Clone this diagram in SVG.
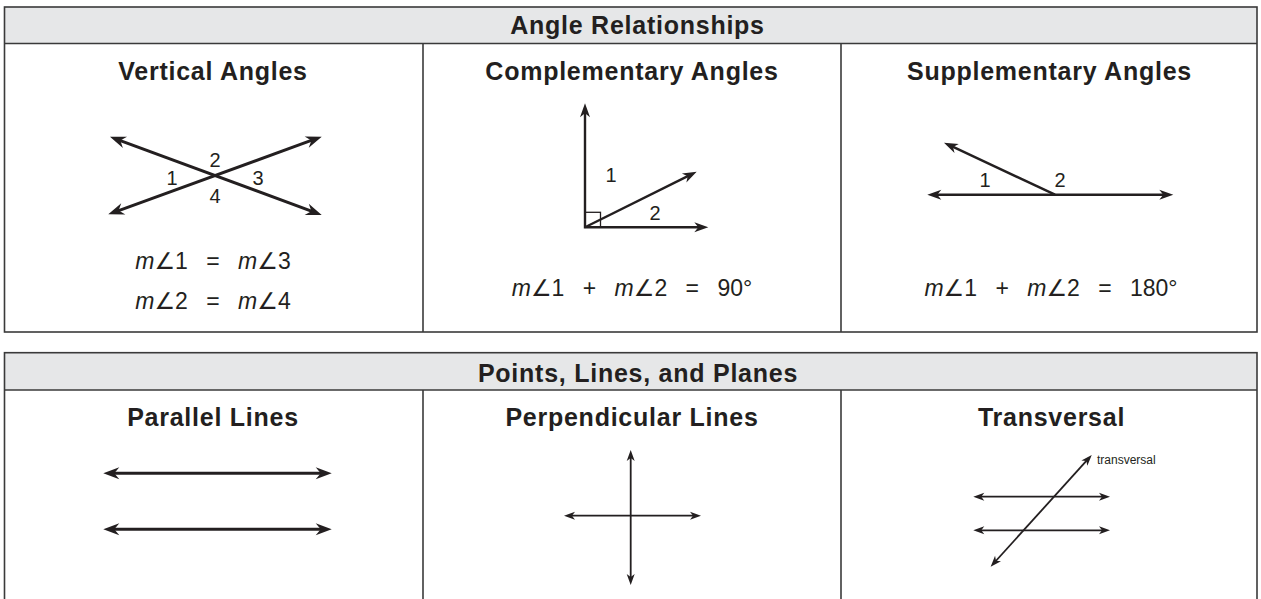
<svg xmlns="http://www.w3.org/2000/svg" width="1261" height="599" viewBox="0 0 1261 599">
<style>
.bg{fill:#ffffff}
.hdr{fill:#e6e7e8}
.frame{fill:none;stroke:#3a3a3a;stroke-width:1.6}
.div{stroke:#3a3a3a;stroke-width:1.6}
.title{font-family:"Liberation Sans",Arial,sans-serif;font-weight:bold;font-size:25px;letter-spacing:0.75px;fill:#231f20;text-anchor:middle}
.num{font-family:"Liberation Sans",Arial,sans-serif;font-size:20px;fill:#231f20;text-anchor:middle}
.eq{font-family:"Liberation Sans","DejaVu Sans",sans-serif;font-size:23px;word-spacing:12px;fill:#231f20;text-anchor:middle}
.eq .i{font-style:italic}
.small{font-family:"Liberation Sans",Arial,sans-serif;font-size:12px;fill:#231f20}
.l3{fill:none;stroke:#231f20;stroke-width:3}
.l25{fill:none;stroke:#231f20;stroke-width:2.4}
.l2{fill:none;stroke:#231f20;stroke-width:1.8}
.box{fill:none;stroke:#231f20;stroke-width:1.3}
.big{marker-start:url(#ahBig);marker-end:url(#ahBig)}
.med{marker-end:url(#ahMed)}
.med2{marker-start:url(#ahMed);marker-end:url(#ahMed)}
.sm{marker-start:url(#ahSm);marker-end:url(#ahSm)}
</style>
<defs>
<marker id="ahBig" markerUnits="userSpaceOnUse" orient="auto-start-reverse" markerWidth="17" markerHeight="12" refX="10" refY="6" overflow="visible">
<path d="M0,0 L16,6 L0,12 L5,6 Z" fill="#231f20"/>
</marker>
<marker id="ahMed" markerUnits="userSpaceOnUse" orient="auto-start-reverse" markerWidth="15" markerHeight="10" refX="8" refY="5" overflow="visible">
<path d="M0,0 L14,5 L0,10 L4,5 Z" fill="#231f20"/>
</marker>
<marker id="ahSm" markerUnits="userSpaceOnUse" orient="auto-start-reverse" markerWidth="12" markerHeight="8" refX="6" refY="4" overflow="visible">
<path d="M0,0 L11,4 L0,8 L3,4 Z" fill="#231f20"/>
</marker>
</defs>
<rect class="bg" x="0" y="0" width="1261" height="599"/>

<g id="table-angle">
<rect class="hdr" x="4.5" y="7" width="1252.5" height="36.5"/>
<rect class="frame" x="4.5" y="7" width="1252.5" height="325"/>
<line class="div" x1="4.5" y1="43.5" x2="1257" y2="43.5"/>
<line class="div" x1="423" y1="43.5" x2="423" y2="332"/>
<line class="div" x1="841" y1="43.5" x2="841" y2="332"/>
<text class="title" x="637.5" y="33.5">Angle Relationships</text>
</g>

<g id="vertical-angles">
<text class="title" x="213" y="80">Vertical Angles</text>
<text class="num" x="215" y="166.5">2</text>
<text class="num" x="172" y="185">1</text>
<text class="num" x="258" y="185">3</text>
<text class="num" x="215" y="202.5">4</text>
<text class="eq" x="213" y="269"><tspan class="i">m</tspan>∠1 = <tspan class="i">m</tspan>∠3</text>
<text class="eq" x="213" y="309"><tspan class="i">m</tspan>∠2 = <tspan class="i">m</tspan>∠4</text>
</g>

<g id="complementary-angles">
<text class="title" x="632" y="80">Complementary Angles</text>
<rect class="box" x="585" y="212.3" width="15.5" height="15"/>
<text class="num" x="611" y="181.5">1</text>
<text class="num" x="655" y="220">2</text>
<text class="eq" x="632" y="296"><tspan class="i">m</tspan>∠1 + <tspan class="i">m</tspan>∠2 = 90°</text>
</g>

<g id="supplementary-angles">
<text class="title" x="1049.5" y="80">Supplementary Angles</text>
<text class="num" x="985" y="186.5">1</text>
<text class="num" x="1060" y="186.5">2</text>
<text class="eq" x="1051" y="296"><tspan class="i">m</tspan>∠1 + <tspan class="i">m</tspan>∠2 = 180°</text>
</g>

<g id="table-points">
<rect class="hdr" x="4.5" y="352.7" width="1252.5" height="37.3"/>
<rect class="frame" x="4.5" y="352.7" width="1252.5" height="260"/>
<line class="div" x1="4.5" y1="390" x2="1257" y2="390"/>
<line class="div" x1="423" y1="390" x2="423" y2="612"/>
<line class="div" x1="841" y1="390" x2="841" y2="612"/>
<text class="title" x="638" y="381.5">Points, Lines, and Planes</text>
</g>

<g id="parallel-lines">
<text class="title" x="213" y="426">Parallel Lines</text>
</g>

<g id="perpendicular-lines">
<text class="title" x="632" y="426">Perpendicular Lines</text>
</g>

<g id="transversal">
<text class="title" x="1051.5" y="426">Transversal</text>
<text class="small" x="1097" y="463.5">transversal</text>
</g>

<g id="connectors">
<line class="l3 big" x1="115.6" y1="138.8" x2="316.1" y2="212.9"/>
<line class="l3 big" x1="113.9" y1="212.3" x2="316.1" y2="138.7"/>
<path class="l25 med2" d="M585,109.3 L585,227.3 L702.3,227.3"/>
<line class="l25 med" x1="585" y1="227.3" x2="691.3" y2="174.4"/>
<line class="l25 med2" x1="933.3" y1="194.7" x2="1167.3" y2="194.7"/>
<line class="l25 med" x1="1055" y1="194.7" x2="949.4" y2="145.2"/>
<line class="l3 big" x1="109.3" y1="473.3" x2="325.7" y2="473.3"/>
<line class="l3 big" x1="109.3" y1="529.3" x2="325.7" y2="529.3"/>
<line class="l2 sm" x1="630.7" y1="455" x2="630.7" y2="580"/>
<line class="l2 sm" x1="569" y1="515.7" x2="696" y2="515.7"/>
<line class="l2 sm" x1="978.3" y1="496.7" x2="1105" y2="496.7"/>
<line class="l2 sm" x1="978.3" y1="530.3" x2="1105" y2="530.3"/>
<line class="l2 sm" x1="994" y1="563" x2="1088.4" y2="458.7"/>
</g>
</svg>
